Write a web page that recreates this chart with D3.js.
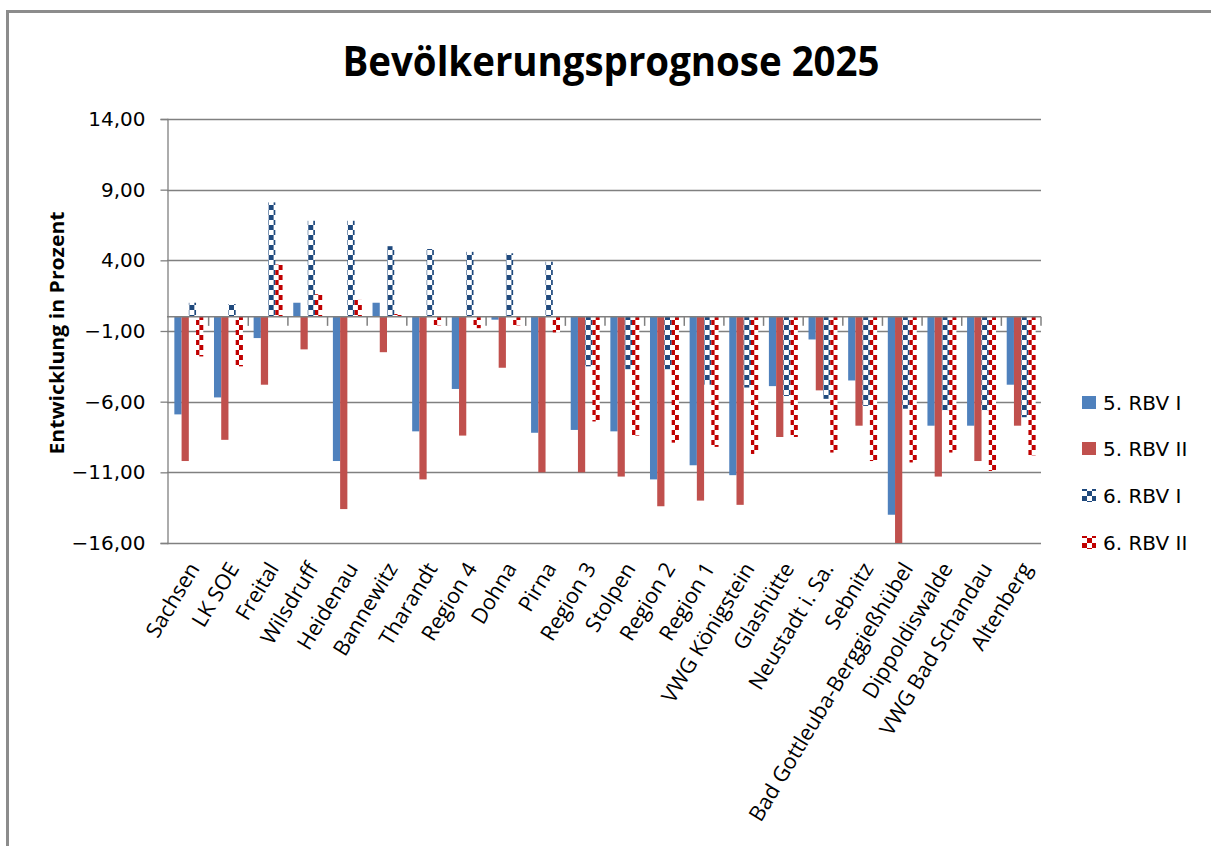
<!DOCTYPE html>
<html>
<head>
<meta charset="utf-8">
<script src="https://cdn.jsdelivr.net/npm/d3@7"></script>
<style>
  body { margin: 0; background: #fff; }
</style>
</head>
<body>
<svg id="chart"></svg>
<script>
// categories (Gemeinden / Regionen) in the order of the chart
var categories = ["Sachsen", "LK SOE", "Freital", "Wilsdruff", "Heidenau", "Bannewitz", "Tharandt",
    "Region 4", "Dohna", "Pirna", "Region 3", "Stolpen", "Region 2", "Region 1", "VWG Königstein",
    "Glashütte", "Neustadt i. Sa.", "Sebnitz", "Bad Gottleuba-Berggießhübel", "Dippoldiswalde",
    "VWG Bad Schandau", "Altenberg"];

var seriesNames = ["5. RBV I", "5. RBV II", "6. RBV I", "6. RBV II"];

// values (Entwicklung in Prozent)
var rbv5I  = [-6.9, -5.7, -1.5, 1.0, -10.2, 1.0, -8.1, -5.1, -0.2, -8.2, -8.0, -8.1, -11.5, -10.5, -11.2, -4.9, -1.6, -4.5, -14.0, -7.7, -7.7, -4.8];
var rbv5II = [-10.2, -8.7, -4.8, -2.3, -13.6, -2.5, -11.5, -8.4, -3.6, -11.0, -11.0, -11.3, -13.4, -13.0, -13.3, -8.5, -5.2, -7.7, -16.0, -11.3, -10.2, -7.7];
var rbv6I  = [1.0, 0.9, 8.1, 6.8, 6.8, 5.0, 4.8, 4.6, 4.5, 3.9, -3.5, -3.7, -3.7, -4.8, -5.0, -5.6, -5.8, -6.3, -6.5, -6.6, -6.6, -7.1];
var rbv6II = [-2.8, -3.5, 3.7, 1.6, 1.2, 0.2, -0.6, -0.8, -0.6, -1.1, -7.4, -8.4, -8.9, -9.2, -9.7, -8.5, -9.6, -10.2, -10.3, -9.6, -10.9, -9.8];

var yTicks = [14, 9, 4, -1, -6, -11, -16];

var seriesValues = [rbv5I, rbv5II, rbv6I, rbv6II];

drawChart();

function drawChart() {
    var svgWidth = 1211, svgHeight = 846;
    var plot = { left: 169, right: 1041, top: 119, bottom: 543 };
    var gridColor = "#808080";

    var svg = d3.select("#chart")
        .attr("width", svgWidth)
        .attr("height", svgHeight);

    // fills: two solid, two checkerboard patterns
    var defs = svg.append("defs");
    makeChecker(defs, "checkBlue", "#1F497D");
    makeChecker(defs, "checkRed", "#C00000");
    var fills = ["#4F81BD", "#C0504D", "url(#checkBlue)", "url(#checkRed)"];

    // outer frame (only top and left edge are in the picture)
    svg.append("path")
        .attr("d", "M7.5,846 V11.5 H1211")
        .attr("fill", "none")
        .attr("stroke", "#8c8c8c")
        .attr("stroke-width", 3);

    var x0 = d3.scaleBand()
        .domain(categories)
        .range([plot.left, plot.right])
        .paddingInner(0.27)
        .paddingOuter(0.135);

    var x1 = d3.scaleBand()
        .domain(seriesNames)
        .range([0, x0.bandwidth()]);

    var y = d3.scaleLinear()
        .domain([-16, 14])
        .range([plot.bottom, plot.top]);

    // horizontal gridlines
    svg.append("g")
        .selectAll("line")
        .data(yTicks)
        .join("line")
        .attr("x1", plot.left - 2)
        .attr("x2", plot.right)
        .attr("y1", function(d) { return Math.round(y(d)) + 0.5; })
        .attr("y2", function(d) { return Math.round(y(d)) + 0.5; })
        .attr("stroke", gridColor)
        .attr("stroke-width", 1.3);

    // y axis
    var yAxis = svg.append("g")
        .attr("transform", "translate(" + (plot.left - 1.5) + ",0)")
        .call(d3.axisLeft(y)
            .tickValues(yTicks)
            .tickSize(7)
            .tickPadding(15)
            .tickFormat(function(d) { return d3.format(".2f")(d).replace(".", ","); }));
    yAxis.select(".domain").attr("stroke", gridColor).attr("stroke-width", 1.3);
    yAxis.selectAll(".tick line").attr("stroke", gridColor).attr("stroke-width", 1.3);
    yAxis.selectAll(".tick text")
        .attr("fill", "#000")
        .style("font-family", "DejaVu Sans")
        .style("font-size", "20px");

    // bars
    var groups = svg.append("g")
        .selectAll("g")
        .data(categories)
        .join("g")
        .attr("transform", function(d) { return "translate(" + x0(d) + ",0)"; });

    groups.selectAll("rect")
        .data(function(d, i) {
            return seriesNames.map(function(s, k) { return { key: s, k: k, value: seriesValues[k][i] }; });
        })
        .join("rect")
        .attr("x", function(d) { return x1(d.key); })
        .attr("width", x1.bandwidth())
        .attr("y", function(d) { return y(Math.max(0, d.value)); })
        .attr("height", function(d) { return Math.abs(y(d.value) - y(0)); })
        .attr("fill", function(d) { return fills[d.k]; });

    // category axis on the zero line, ticks between the groups
    var xAxis = svg.append("g")
        .attr("transform", "translate(0," + y(0) + ")");
    xAxis.append("line")
        .attr("x1", plot.left - 2)
        .attr("x2", plot.right)
        .attr("stroke", gridColor)
        .attr("stroke-width", 1.5);
    xAxis.selectAll(".sep")
        .data(categories.slice(1).concat(["end"]))
        .join("line")
        .attr("class", "sep")
        .attr("x1", function(d, i) { return x0.range()[0] + (i + 1) * x0.step(); })
        .attr("x2", function(d, i) { return x0.range()[0] + (i + 1) * x0.step(); })
        .attr("y1", 0)
        .attr("y2", 9)
        .attr("stroke", gridColor)
        .attr("stroke-width", 1.5);

    // rotated category labels below the plot
    svg.append("g")
        .selectAll("text")
        .data(categories)
        .join("text")
        .attr("transform", function(d) {
            return "translate(" + (x0(d) + x0.bandwidth() / 2 + 6) + ",565) rotate(-59)";
        })
        .attr("text-anchor", "end")
        .attr("dy", "0.3em")
        .style("font-family", "Open Sans")
        .style("font-size", "21.5px")
        .attr("fill", "#000")
        .text(function(d) { return d; });

    // title
    svg.append("text")
        .attr("x", 611)
        .attr("y", 76)
        .attr("text-anchor", "middle")
        .attr("textLength", 537)
        .attr("lengthAdjust", "spacingAndGlyphs")
        .style("font-family", "Open Sans")
        .style("font-weight", "bold")
        .style("font-size", "42px")
        .text("Bevölkerungsprognose 2025");

    // y axis label
    svg.append("text")
        .attr("transform", "translate(64,333) rotate(-90)")
        .attr("text-anchor", "middle")
        .attr("textLength", 243)
        .attr("lengthAdjust", "spacingAndGlyphs")
        .style("font-family", "Open Sans")
        .style("font-weight", "bold")
        .style("font-size", "19px")
        .text("Entwicklung in Prozent");

    // legend
    var legend = svg.append("g")
        .selectAll("g")
        .data(seriesNames)
        .join("g")
        .attr("transform", function(d, i) { return "translate(1082," + [403, 449, 496, 543][i] + ")"; });
    legend.append("rect")
        .attr("x", 0)
        .attr("y", -7)
        .attr("width", 14)
        .attr("height", 13)
        .attr("fill", function(d, i) { return fills[i]; });
    legend.append("text")
        .attr("x", 21)
        .attr("dy", "0.36em")
        .style("font-family", "DejaVu Sans")
        .style("font-size", "20px")
        .text(function(d) { return d; });
}

// checkerboard pattern like Excel's "large checkerboard"
function makeChecker(defs, id, color) {
    var p = defs.append("pattern")
        .attr("id", id)
        .attr("patternUnits", "userSpaceOnUse")
        .attr("width", 10)
        .attr("height", 10);
    p.append("rect").attr("width", 10).attr("height", 10).attr("fill", "#fff");
    p.append("rect").attr("x", 0).attr("y", 0).attr("width", 5).attr("height", 5).attr("fill", color);
    p.append("rect").attr("x", 5).attr("y", 5).attr("width", 5).attr("height", 5).attr("fill", color);
}
</script>
</body>
</html>
